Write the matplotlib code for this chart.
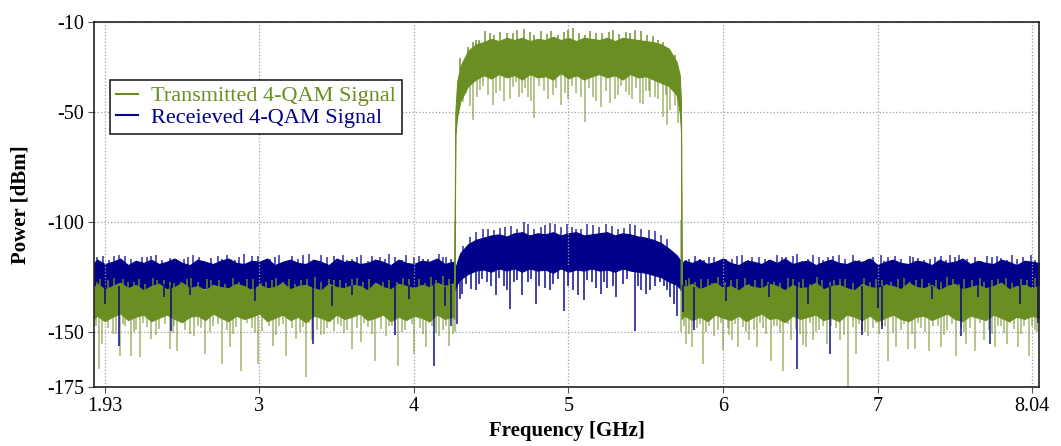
import matplotlib.pyplot as plt
from matplotlib.lines import Line2D
import numpy as np

# dense part of each spectrum, sampled along frequency [GHz] / power [dBm]
freq_core = [1.93, 1.95, 2.00, 2.05, 2.10, 2.15, 2.20, 2.25, 2.30, 2.35,
             2.40, 2.45, 2.50, 2.55, 2.60, 2.65, 2.70, 2.75, 2.80, 2.85,
             2.90, 2.95, 3.00, 3.05, 3.10, 3.15, 3.20, 3.25, 3.30, 3.35,
             3.40, 3.45, 3.50, 3.55, 3.60, 3.65, 3.70, 3.75, 3.80, 3.85,
             3.90, 3.95, 4.00, 4.05, 4.10, 4.15, 4.20, 4.25, 4.262,
             4.268, 4.28, 4.30, 4.35, 4.40, 4.45, 4.50, 4.55, 4.60, 4.65,
             4.70, 4.75, 4.80, 4.85, 4.90, 4.95, 5.00, 5.05, 5.10, 5.15,
             5.20, 5.25, 5.30, 5.35, 5.40, 5.45, 5.50, 5.55, 5.60, 5.65,
             5.70, 5.72, 5.728,
             5.732, 5.75, 5.80, 5.85, 5.90, 5.95, 6.00, 6.05, 6.10, 6.15,
             6.20, 6.25, 6.30, 6.35, 6.40, 6.45, 6.50, 6.55, 6.60, 6.65,
             6.70, 6.75, 6.80, 6.85, 6.90, 6.95, 7.00, 7.05, 7.10, 7.15,
             7.20, 7.25, 7.30, 7.35, 7.40, 7.45, 7.50, 7.55, 7.60, 7.65,
             7.70, 7.75, 7.80, 7.85, 7.90, 7.95, 8.00, 8.045]

tx_core_hi = [-129.5, -128, -130.5, -129, -127.5, -130, -128.5, -131, -129, -128,
              -130.5, -129.5, -127.5, -130, -129, -131, -128.5, -129.5, -130, -128,
              -129, -131, -128.5, -130, -129.5, -127.5, -130.5, -129, -128.5, -130,
              -131, -128, -129.5, -130, -128.5, -129, -131, -127.5, -129.5, -130.5,
              -128, -129, -130, -128.5, -129.5, -127.5, -129, -128, -127.5,
              -50, -36, -29, -22, -19, -18, -16.5, -17.5, -16, -17,
              -16, -17.5, -16.5, -17, -15.5, -17, -16, -17.5, -16, -16.5,
              -17, -16, -17.5, -16, -16.5, -17, -17.5, -18, -19, -21,
              -27, -33, -45,
              -128, -129.5, -128, -130.5, -129, -127.5, -130, -129, -131, -128.5,
              -129.5, -130, -128, -129, -131, -128.5, -130, -129.5, -127.5, -130.5,
              -129, -128.5, -130, -131, -128, -129.5, -130, -128.5, -129, -130.5,
              -127.5, -129.5, -130, -128.5, -131, -129, -128, -130.5, -129.5, -128.5,
              -130, -129, -127.5, -130.5, -129, -128.5, -130, -129]
tx_core_lo = [-144, -142.5, -145, -143, -141.5, -144.5, -143, -142, -145, -143.5,
              -142, -144, -145.5, -143, -142.5, -144.5, -141.5, -143.5, -145, -142.5,
              -144, -143, -141.5, -145, -143.5, -142, -144.5, -143, -145.5, -142.5,
              -143.5, -145, -142, -144, -143, -141.5, -144.5, -143.5, -142, -145,
              -143, -144.5, -142.5, -143.5, -145, -142, -144, -143, -144,
              -60, -52, -45, -38, -35, -33, -34.5, -32.5, -34, -33,
              -35, -32.5, -34, -33.5, -35, -32, -34.5, -33, -35, -33.5,
              -32.5, -34, -33, -35, -32.5, -34, -33.5, -35, -36.5, -38,
              -42, -50, -58,
              -144, -142.5, -144.5, -143, -145, -142, -143.5, -144.5, -142.5, -145,
              -143, -141.5, -144, -143.5, -145.5, -142.5, -144, -143, -142, -144.5,
              -143.5, -145, -142, -143, -144.5, -142.5, -145, -143.5, -142, -144,
              -145, -143, -142.5, -144.5, -143, -141.5, -144, -145, -142.5, -143.5,
              -144.5, -142, -143.5, -145, -143, -144, -142.5, -143.5]
rx_core_hi = [-118.5, -117, -119, -118, -116.5, -119.5, -117.5, -118.5, -117, -119,
              -118, -116.5, -118.5, -119.5, -117, -118, -119, -117.5, -116.5, -118.5,
              -119, -117.5, -118, -116.5, -119.5, -118, -117, -118.5, -119, -117,
              -118, -119.5, -116.5, -118, -117.5, -119, -118.5, -117, -118, -119.5,
              -117, -118.5, -119, -117.5, -118, -116.5, -119, -118, -118.5,
              -121, -118, -114, -110, -108, -107, -106, -105.5, -106.5, -105,
              -104.5, -106, -105, -105.5, -104.5, -106, -105, -104.5, -106, -105.5,
              -105, -104.5, -106, -105, -105.5, -106.5, -107, -108, -109.5, -112,
              -115, -117, -119,
              -119, -117.5, -118.5, -117, -119, -118, -116.5, -118.5, -119.5, -117.5,
              -118, -119, -117, -118.5, -116.5, -119, -118, -117.5, -119.5, -118,
              -117, -118.5, -119, -117.5, -118, -116.5, -119.5, -118, -117, -118.5,
              -119, -117.5, -118, -119.5, -117, -118.5, -118, -116.5, -119, -117.5,
              -118.5, -119, -117, -118, -119.5, -117.5, -118, -118.5]
rx_core_lo = [-131, -130, -131.5, -130.5, -131, -130, -131.5, -130.5, -131, -130,
              -130.5, -131.5, -130, -131, -130.5, -130, -131.5, -131, -130, -130.5,
              -131, -130, -131.5, -130.5, -131, -130, -131.5, -130.5, -131, -130,
              -130.5, -131.5, -130, -131, -130.5, -130, -131.5, -131, -130, -130.5,
              -131, -130, -131.5, -130.5, -131, -130, -131.5, -130.5, -131,
              -130, -128, -126, -123.5, -122, -121.5, -122.5, -121, -122, -121,
              -122.5, -121, -122, -121.5, -123, -121, -122.5, -121.5, -122, -121,
              -122, -121.5, -122.5, -121, -122, -122.5, -123, -124, -125, -127,
              -128.5, -130, -131,
              -131, -130, -131.5, -130.5, -131, -130, -131.5, -130.5, -131, -130,
              -130.5, -131.5, -130, -131, -130.5, -130, -131.5, -131, -130, -130.5,
              -131, -130, -131.5, -130.5, -131, -130, -131.5, -130.5, -131, -130,
              -130.5, -131.5, -130, -131, -130.5, -130, -131.5, -131, -130, -130.5,
              -131, -130, -131.5, -130.5, -131, -130, -131.5, -130.5]

# isolated peaks above the dense part
tx_peak_f = [1.97, 2.06, 2.15, 2.22, 2.31, 2.38, 2.49, 2.56, 2.66, 2.74, 2.83, 2.92, 3.04, 3.11,
             3.19, 3.27, 3.36, 3.45, 3.52, 3.63, 3.71, 3.80, 3.93, 4.03, 4.11, 4.19,
             4.30, 4.35, 4.42, 4.46, 4.52, 4.60, 4.71, 4.78, 4.86, 4.93, 5.03, 5.11, 5.18,
             5.26, 5.33, 5.43, 5.51, 5.58, 5.63, 5.69,
             5.78, 5.86, 5.97, 6.05, 6.14, 6.25, 6.33, 6.42, 6.52, 6.61, 6.72, 6.79, 6.91,
             6.99, 7.09, 7.17, 7.29, 7.38, 7.45, 7.56, 7.66, 7.74, 7.83, 7.93, 8.02,
             # finer texture
             1.95, 2.02, 2.09, 2.12, 2.19, 2.26, 2.34, 2.42, 2.45, 2.53,
             2.60, 2.69, 2.78, 2.87, 2.96, 3.01, 3.08, 3.15, 3.23, 3.31,
             3.40, 3.48, 3.56, 3.60, 3.67, 3.76, 3.84, 3.89, 3.97, 4.07,
             4.14, 4.23,
             4.38, 4.40, 4.49, 4.56, 4.64, 4.67, 4.75, 4.82, 4.89, 4.97,
             5.00, 5.07, 5.14, 5.22, 5.29, 5.37, 5.40, 5.47, 5.55, 5.61,
             5.76, 5.82, 5.90, 5.93, 6.01, 6.09, 6.17, 6.21, 6.29, 6.37,
             6.45, 6.49, 6.56, 6.64, 6.69, 6.76, 6.84, 6.95, 7.03, 7.06,
             7.13, 7.21, 7.25, 7.33, 7.41, 7.49, 7.53, 7.61, 7.69, 7.78,
             7.87, 7.97]
tx_peak_db = [-126, -125.5, -127, -126, -125.5, -126.5, -127, -125.5, -126, -126.5, -125.5, -126,
              -127, -125.5, -126, -126.5, -125, -126, -126.5, -125.5, -126, -127, -125.5, -126,
              -125, -124.5,
              -25.3, -20, -16.9, -12.9, -14.6, -13.9, -12, -14.6, -14.3, -14.6, -11.7, -14.6,
              -13.9, -13.2, -14.3, -12.3, -14.6, -16.9, -20, -23.8,
              -125.5, -126, -125, -126.5, -125.5, -126, -127, -125.5, -126, -125, -126.5, -126,
              -125.5, -126, -127, -125.5, -126, -126.5, -125, -126, -125.5, -126.5, -125.5,
              -126, -125.5,
              -127, -126.5, -127.5, -126, -127, -128, -126.5, -127, -127.5, -126,
              -127, -126.5, -128, -127, -126, -127.5, -126.5, -127, -128, -126,
              -127, -126.5, -127.5, -126, -127, -128, -126.5, -127, -126, -127.5,
              -126.5, -126,
              -18, -17, -14, -13.5, -14, -12.5, -13.5, -13, -12.8, -13.5,
              -12.5, -14, -12.8, -14, -12.5, -13.5, -14, -13, -15, -18,
              -126.5, -127, -126, -127.5, -127, -126, -128, -126.5, -127, -127.5,
              -126, -127, -128, -126.5, -127, -126, -127.5, -127, -126.5, -128,
              -126, -127, -126.5, -127.5, -127, -126, -128, -126.5, -127, -126,
              -127.5, -126.5]
rx_peak_f = [1.99, 2.09, 2.13, 2.27, 2.33, 2.42, 2.46, 2.57, 2.61, 2.69, 2.79, 2.90, 2.95, 3.13,
             3.28, 3.32, 3.40, 3.54, 3.60, 3.66, 3.78, 3.84, 3.95, 4.00, 4.09, 4.16, 4.21,
             4.32, 4.36, 4.45, 4.52, 4.59, 4.71, 4.78, 4.85, 4.91, 5.02, 5.08, 5.16, 5.24,
             5.32, 5.43, 5.52, 5.60,
             5.76, 5.85, 5.94, 6.06, 6.12, 6.23, 6.35, 6.41, 6.48, 6.58, 6.68, 6.75, 6.84,
             6.94, 7.02, 7.07, 7.21, 7.26, 7.37, 7.47, 7.53, 7.63, 7.71, 7.80, 7.87, 7.99,
             # finer texture
             1.95, 2.03, 2.06, 2.17, 2.20, 2.24, 2.30, 2.37, 2.51, 2.54,
             2.64, 2.73, 2.76, 2.84, 2.87, 2.99, 3.03, 3.07, 3.10, 3.17,
             3.21, 3.25, 3.36, 3.44, 3.48, 3.51, 3.57, 3.63, 3.70, 3.73,
             3.81, 3.88, 3.92, 4.03, 4.06, 4.13, 4.19, 4.24,
             4.40, 4.48, 4.56, 4.63, 4.67, 4.74, 4.82, 4.88, 4.95, 4.99,
             5.05, 5.12, 5.20, 5.28, 5.36, 5.40, 5.47, 5.56, 5.64,
             5.78, 5.82, 5.88, 5.91, 5.99, 6.02, 6.09, 6.16, 6.19, 6.27,
             6.30, 6.38, 6.45, 6.51, 6.55, 6.62, 6.65, 6.71, 6.79, 6.88,
             6.97, 7.04, 7.11, 7.15, 7.23, 7.30, 7.34, 7.41, 7.44, 7.50,
             7.58, 7.67, 7.74, 7.77, 7.84, 7.90, 7.94, 8.02]
rx_peak_db = [-115.4, -115.1, -115.5, -115.8, -115.1, -116.1, -116.6, -115.1, -115.8, -116.1,
              -115.1, -114.3, -115.5, -115.1, -115.1, -114.3, -115.1, -115.1, -116.6, -115.1,
              -115.8, -114.3, -115.1, -115.8, -116.6, -114.3, -115.8,
              -110.6, -106.7, -102.9, -103.7, -102.1, -99.8, -102.9, -101.4, -100.6, -102.1,
              -102.9, -101.4, -100.6, -102.9, -101.4, -103.7, -105.9,
              -117.4, -116.6, -115.8, -116.6, -115.1, -115.8, -115.1, -115.8, -114.3, -115.1,
              -115.8, -115.1, -115.1, -116.6, -115.1, -115.8, -115.5, -116.1, -115.8, -115.1,
              -115.1, -115.8, -115.5, -116.1, -115.1, -115.1,
              -116, -117, -115.5, -116.5, -117.5, -116, -115.5, -117, -116.5, -116,
              -117.5, -115.5, -116.5, -117, -116, -115.5, -117, -116.5, -116, -117.5,
              -115.5, -116.5, -117, -116, -115.5, -116.5, -117, -116, -117.5, -115.5,
              -116.5, -116, -117, -115.5, -116.5, -117, -116, -116.5,
              -104.5, -103, -102.5, -101.5, -103, -101, -102, -100.5, -102, -101,
              -103, -101, -102, -101.5, -102.5, -101, -103, -104, -107.5,
              -116.5, -115.5, -117, -116, -117.5, -116.5, -115.5, -117, -116, -116.5,
              -117, -116, -115.5, -117.5, -116.5, -116, -117, -115.5, -116.5, -117,
              -116, -117.5, -115.5, -116.5, -116, -117, -116.5, -115.5, -117, -116,
              -116.5, -117.5, -116, -115.5, -117, -116.5, -116, -117]

# isolated dips below the dense part
tx_dip_f = [1.96, 1.98, 2.02, 2.05, 2.10, 2.13, 2.17, 2.20, 2.23, 2.27, 2.30, 2.35, 2.42, 2.45,
            2.47, 2.52, 2.58, 2.62, 2.65, 2.70, 2.76, 2.79, 2.81, 2.85, 2.88, 2.95, 2.99, 3.02,
            3.09, 3.13, 3.17, 3.21, 3.24, 3.28, 3.30, 3.34, 3.37, 3.40, 3.44, 3.48, 3.53, 3.57,
            3.60, 3.63, 3.66, 3.70, 3.75, 3.79, 3.82, 3.86, 3.90, 3.94, 4.00, 4.04, 4.08, 4.12,
            4.16, 4.19, 4.23, 4.265,
            4.32, 4.38, 4.43, 4.48, 4.51, 4.56, 4.62, 4.66, 4.70, 4.74, 4.78, 4.84, 4.90, 4.95,
            5.00, 5.05, 5.11, 5.16, 5.21, 5.27, 5.32, 5.37, 5.41, 5.46, 5.50, 5.53, 5.56, 5.61,
            5.64, 5.69,
            5.73, 5.76, 5.80, 5.83, 5.87, 5.91, 5.94, 5.97, 6.00, 6.03, 6.06, 6.10, 6.13, 6.17,
            6.20, 6.22, 6.26, 6.31, 6.35, 6.39, 6.44, 6.47, 6.52, 6.54, 6.58, 6.62, 6.67, 6.70,
            6.73, 6.76, 6.81, 6.84, 6.86, 6.90, 6.94, 6.97, 7.03, 7.07, 7.12, 7.15, 7.20, 7.24,
            7.28, 7.33, 7.36, 7.41, 7.45, 7.51, 7.54, 7.57, 7.60, 7.63, 7.69, 7.72, 7.76, 7.80,
            7.84, 7.88, 7.91, 7.95, 7.98, 8.02,
            # finer texture
            1.94, 2.07, 2.12, 2.19, 2.25, 2.33, 2.39, 2.44, 2.50, 2.55,
            2.60, 2.68, 2.73, 2.83, 2.92, 2.97, 3.06, 3.11, 3.15, 3.26,
            3.32, 3.42, 3.51, 3.55, 3.68, 3.73, 3.84, 3.92, 3.99, 4.06,
            4.10, 4.14, 4.21, 4.25,
            4.29, 4.34, 4.36, 4.41, 4.45, 4.53, 4.58, 4.64, 4.68, 4.72,
            4.76, 4.81, 4.87, 4.92, 4.98, 5.02, 5.08, 5.13, 5.18, 5.24,
            5.30, 5.34, 5.39, 5.44, 5.48, 5.52, 5.58, 5.63, 5.66, 5.71,
            5.75, 5.78, 5.85, 5.89, 5.99, 6.04, 6.08, 6.15, 6.24, 6.28,
            6.33, 6.37, 6.42, 6.50, 6.56, 6.60, 6.65, 6.78, 6.88, 6.92,
            6.99, 7.01, 7.05, 7.10, 7.17, 7.22, 7.26, 7.31, 7.39, 7.43,
            7.48, 7.56, 7.66, 7.74, 7.78, 7.82, 7.86, 7.93, 8.00, 8.03]
tx_dip_db = [-166.8, -155.4, -148, -150.7, -160.7, -147, -160.7, -149, -161.5, -147.5, -153,
             -148.5, -157.7, -147, -158.4, -149, -152, -148, -160, -147, -164.5, -149, -157,
             -147.5, -167.6, -148, -164.5, -149.5, -156.5, -147, -160.7, -148, -153, -147.5,
             -170.6, -153.8, -149, -151.5, -148, -149.5, -147, -149, -157.7, -148, -154.5,
             -147.5, -163, -148.5, -152, -147, -165.3, -149, -160, -148, -157, -147, -152,
             -149, -156.5, -150,
             -45.1, -53.4, -39.7, -42, -46.6, -40, -44, -35.9, -41, -43, -52.6, -40, -42,
             -46.6, -44, -41, -54.2, -43, -47.4, -45.8, -42, -40.5, -44, -45.8, -40, -43,
             -42.8, -51.9, -55.7, -46.6,
             -150, -155.4, -157, -148, -164.5, -147, -152, -149, -158, -148, -153.8, -157,
             -147.5, -153.8, -149, -157, -148, -163, -147, -167.6, -153.8, -148.5, -156, -157,
             -153.8, -149, -155.4, -147, -148, -153.8, -175, -147.5, -160, -149, -152, -148,
             -147, -163, -157, -149, -157.7, -157.7, -148, -158.4, -147, -157, -149, -160.7,
             -147.5, -155.4, -148, -158.4, -153.8, -149, -157, -147, -155.4, -148.5, -157,
             -147, -160.7, -149,
             -147, -151, -146.5, -150, -146, -151.5, -146.5, -150.5, -146, -151,
             -147, -150, -146.5, -151, -146, -150.5, -147, -151.5, -146.5, -150,
             -146, -151, -146.5, -150.5, -146, -151, -147, -150, -146.5, -151,
             -146, -150.5, -147, -151,
             -48, -41, -47, -43, -38, -41, -45, -38.5, -43, -39,
             -45, -38, -44, -39, -41, -38, -43, -39, -45, -40,
             -44, -38, -42, -39, -46, -40, -44, -42, -49, -55,
             -147, -151, -146.5, -150, -146, -151.5, -146.5, -150, -146, -151,
             -147, -150.5, -146.5, -151, -146, -150, -147, -151.5, -146.5, -150,
             -146, -151, -147, -150.5, -146.5, -151, -146, -150, -147, -151.5,
             -146.5, -150, -146, -151, -147, -150.5, -146, -151, -147, -150]
rx_dip_f = [2.00, 2.09, 2.38, 2.43, 2.55, 2.97, 3.35, 3.47, 3.60, 3.88, 3.97, 4.13, 4.20, 4.24,
            4.28, 4.31, 4.37, 4.42, 4.47, 4.53, 4.58, 4.62, 4.67, 4.74, 4.79, 4.85, 4.90, 4.97,
            5.03, 5.10, 5.15, 5.21, 5.25, 5.29, 5.35, 5.43, 5.47, 5.50, 5.56, 5.62, 5.66, 5.70,
            5.74,
            5.81, 6.02, 6.30, 6.48, 6.55, 6.69, 6.90, 7.00, 7.03, 7.35, 7.54, 7.65, 7.73, 7.92,
            8.04,
            # finer texture
            4.30, 4.34, 4.40, 4.44, 4.50, 4.55, 4.60, 4.65, 4.70, 4.76,
            4.81, 4.88, 4.93, 5.00, 5.06, 5.12, 5.18, 5.23, 5.31, 5.38,
            5.45, 5.53, 5.59, 5.64, 5.68]
rx_dip_db = [-137, -156.2, -134, -149.5, -133, -136, -155.4, -138, -133, -151.5, -135, -165.3,
             -138, -147,
             -146.3, -132.6, -130.3, -128, -127, -133.3, -129, -139.4, -126.5, -127.2, -137.1,
             -130, -128, -140.2, -131, -135.6, -127, -132.6, -130, -128.8, -128, -149.3, -131,
             -132.6, -128.8, -129, -134, -142.5, -141,
             -149, -136, -134, -166.8, -137, -160, -151.5, -139, -148.5, -135, -152, -134,
             -155.4, -137, -146,
             -135, -128, -131, -126, -129, -125.5, -131, -127, -133, -126,
             -129, -131, -126, -129, -133, -126.5, -130, -127, -134, -126,
             -129, -131, -127, -131, -137]

x_ticks = [2, 3, 4, 5, 6, 7, 8]
x_tick_labels = ['1.93', '3', '4', '5', '6', '7', '8.04']
y_ticks = [-8.8, -50, -100, -150, -175]
y_tick_labels = ['-10', '-50', '-100', '-150', '-175']

TX_COLOR = '#6b8e23'
RX_COLOR = '#00008b'

plt.rcParams['font.family'] = ['Liberation Serif', 'DejaVu Serif']

fig = plt.figure(figsize=(10.61, 4.46), dpi=100)
ax = fig.add_axes([0.0886, 0.1323, 0.8907, 0.8184])

f = np.array(freq_core)


def draw_strokes(freqs, values, base_curve, offset, color, alpha, z):
    '''Vertical strokes from each peak/dip value back into the dense band.'''
    freqs = np.asarray(freqs)
    base = np.interp(freqs, f, base_curve) + offset
    ax.vlines(freqs, values, base, colors=color, alpha=alpha, lw=1.3, zorder=z)


ax.fill_between(f, rx_core_lo, rx_core_hi, color=RX_COLOR, lw=0.8, edgecolor=RX_COLOR, zorder=2)
draw_strokes(rx_peak_f, rx_peak_db, rx_core_hi, -2, RX_COLOR, 0.7, 2)
ax.fill_between(f, tx_core_lo, tx_core_hi, color=TX_COLOR, lw=0.8, edgecolor=TX_COLOR, zorder=3)
draw_strokes(tx_peak_f, tx_peak_db, tx_core_hi, -2, TX_COLOR, 0.8, 3)
draw_strokes(tx_dip_f, tx_dip_db, tx_core_lo, 2, TX_COLOR, 0.55, 3)
draw_strokes(rx_dip_f, rx_dip_db, rx_core_lo, 2, RX_COLOR, 0.8, 4)

ax.set_xlim(1.93, 8.045)
ax.set_ylim(-175, -8.8)
ax.set_xticks(x_ticks)
ax.set_xticklabels(x_tick_labels)
ax.set_yticks(y_ticks)
ax.set_yticklabels(y_tick_labels)
ax.tick_params(labelsize=14.5, length=4, width=0.8, color='#555555', pad=3)

ax.grid(True, color='#a0a0a0', linestyle=':', linewidth=0.9, zorder=5)
ax.set_axisbelow(False)
for spine in ax.spines.values():
    spine.set_color('#222222')
    spine.set_linewidth(1.2)
    spine.set_zorder(6)

ax.set_xlabel('Frequency [GHz]', fontsize=15, fontweight='bold', labelpad=4)
ax.set_ylabel('Power [dBm]', fontsize=15, fontweight='bold', labelpad=12)

handles = [Line2D([], [], color=TX_COLOR, lw=1.5), Line2D([], [], color=RX_COLOR, lw=1.5)]
leg = ax.legend(handles, ['Transmitted 4-QAM Signal', 'Receieved 4-QAM Signal'],
                loc='upper left', bbox_to_anchor=(0.017, 0.84), borderaxespad=0,
                fontsize=16, handlelength=1.0, handletextpad=0.6, labelspacing=0.05,
                borderpad=0.25, fancybox=False, framealpha=1, edgecolor='#222222')
leg.get_frame().set_linewidth(1.2)
leg.set_zorder(7)
for text, color in zip(leg.get_texts(), [TX_COLOR, RX_COLOR]):
    text.set_color(color)

fig.savefig('out.png', dpi=100)
